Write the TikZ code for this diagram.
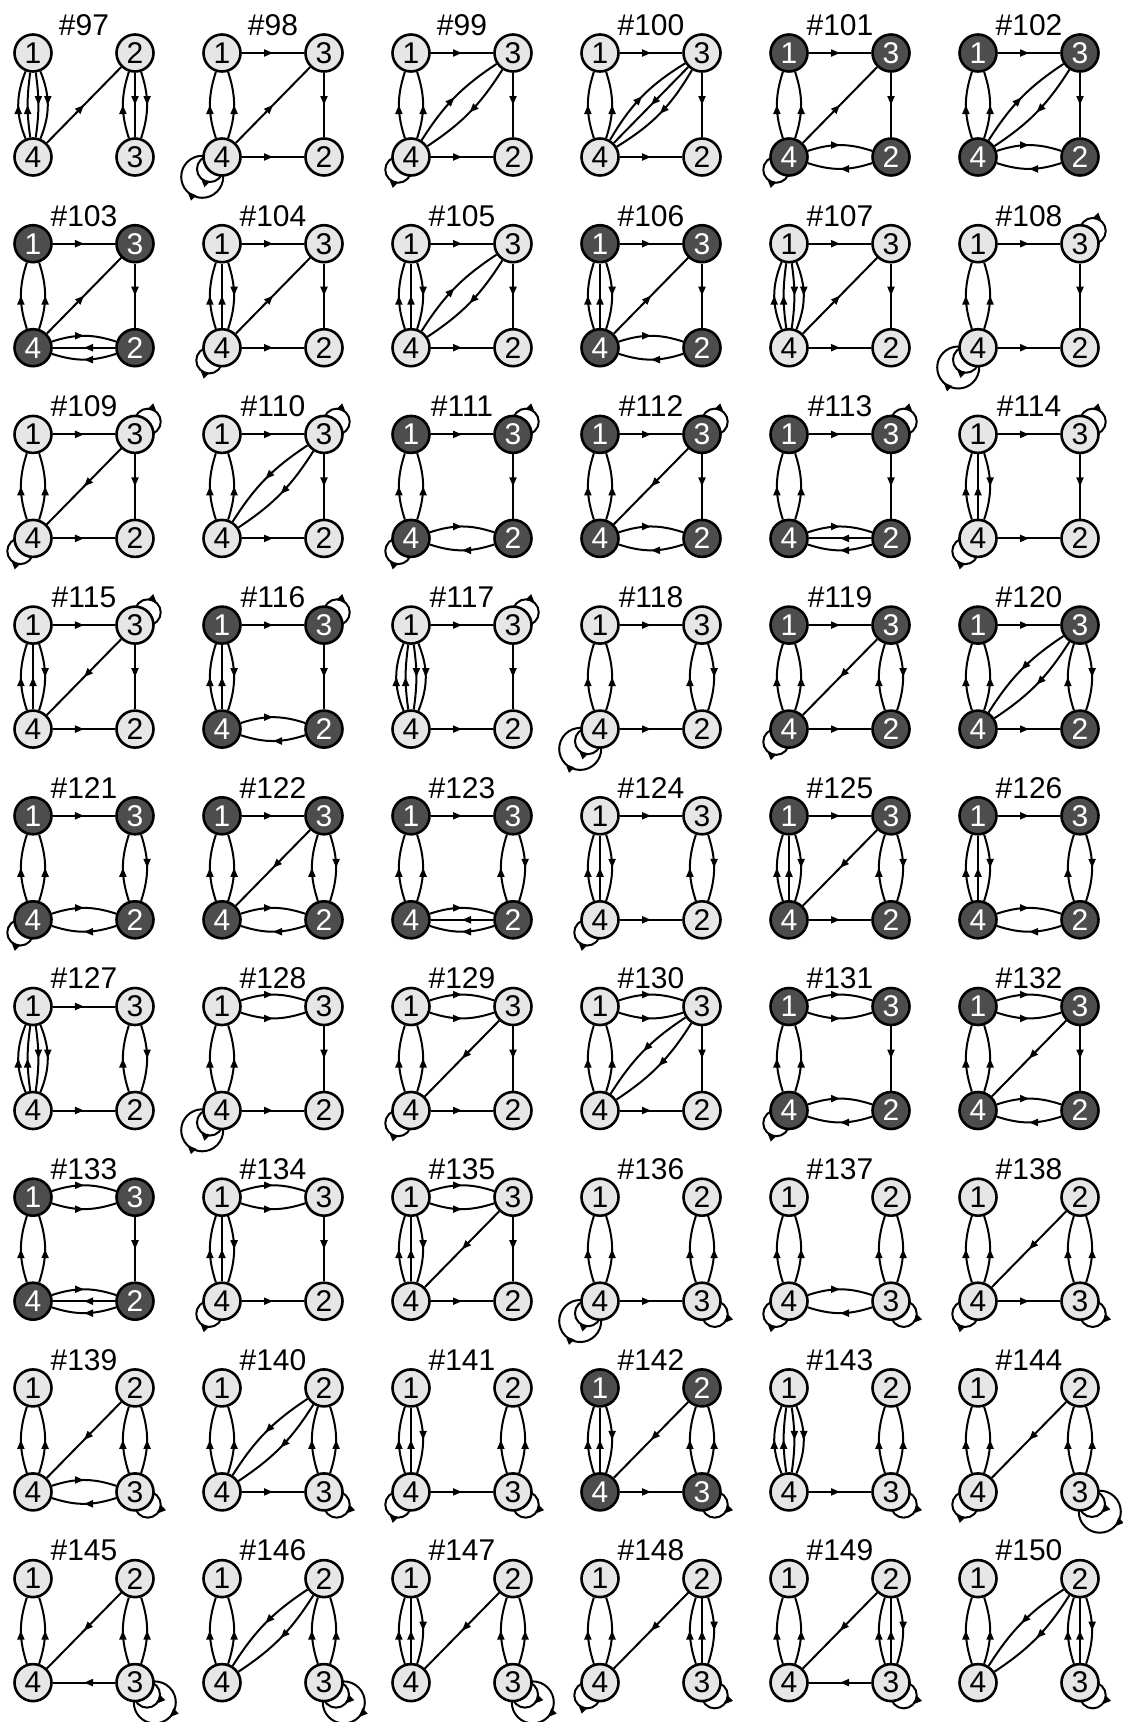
\documentclass[tikz,border=0pt]{standalone}
\usepackage{fontspec}
\setmainfont{Liberation Sans}
\usetikzlibrary{arrows.meta,decorations.markings,backgrounds,calc}

\definecolor{motiflite}{HTML}{E6E6E6}
\definecolor{motifdark}{HTML}{4D4D4D}

\tikzset{
  lite/.style={circle,draw,line width=2.6pt,fill=motiflite,minimum size=37pt,inner sep=0pt,
    font=\fontsize{30}{30}\selectfont},
  dark/.style={lite,fill=motifdark,text=white},
  title/.style={inner sep=0pt,font=\fontsize{30}{30}\selectfont},
  link/.style={line width=2pt,postaction={decorate},
    decoration={markings,mark=at position 0.5 with {\arrow{Triangle[length=9pt,width=7pt]}}}},
}

% one motif: column, row, number, top right label, bottom right label, fill style
\newcommand{\motif}[6]{%
  \coordinate (o#3) at (#1*189+33,-#2*190.7-53);
  \node[#6] (g#3-1) at (o#3) {1};
  \node[#6] (g#3-#4) at ($(o#3)+(102,0)$) {#4};
  \node[#6] (g#3-4) at ($(o#3)+(0,-104)$) {4};
  \node[#6] (g#3-#5) at ($(o#3)+(102,-104)$) {#5};
  \node[title] (t#3) at ($(o#3)+(51,28)$) {\##3};
}
% edges from/to/bend
\newcommand{\links}[2]{\foreach \s/\t/\b in {#2}{\draw[link] (g#1-\s) to[bend left=\b] (g#1-\t);}}
% self loop: node, direction, offset, radius
\newcommand{\selfloop}[4]{\draw[link] ($(#1)+(#2:#3)+(#2+180:#4)$) arc[start angle=#2+180,delta angle=-360,radius=#4];}
\newcommand{\oneloop}[2]{\selfloop{#1}{#2}{18}{13}}
\newcommand{\twoloops}[2]{\selfloop{#1}{#2}{17}{13}\selfloop{#1}{#2}{28}{21}}

\begin{document}
\begin{tikzpicture}[x=1pt,y=1pt]
  \useasboundingbox (0,0) rectangle (1123,-1722);

  \motif{0}{0}{97}{2}{3}{lite}
  \motif{1}{0}{98}{3}{2}{lite}
  \motif{2}{0}{99}{3}{2}{lite}
  \motif{3}{0}{100}{3}{2}{lite}
  \motif{4}{0}{101}{3}{2}{dark}
  \motif{5}{0}{102}{3}{2}{dark}
  \motif{0}{1}{103}{3}{2}{dark}
  \motif{1}{1}{104}{3}{2}{lite}
  \motif{2}{1}{105}{3}{2}{lite}
  \motif{3}{1}{106}{3}{2}{dark}
  \motif{4}{1}{107}{3}{2}{lite}
  \motif{5}{1}{108}{3}{2}{lite}
  \motif{0}{2}{109}{3}{2}{lite}
  \motif{1}{2}{110}{3}{2}{lite}
  \motif{2}{2}{111}{3}{2}{dark}
  \motif{3}{2}{112}{3}{2}{dark}
  \motif{4}{2}{113}{3}{2}{dark}
  \motif{5}{2}{114}{3}{2}{lite}
  \motif{0}{3}{115}{3}{2}{lite}
  \motif{1}{3}{116}{3}{2}{dark}
  \motif{2}{3}{117}{3}{2}{lite}
  \motif{3}{3}{118}{3}{2}{lite}
  \motif{4}{3}{119}{3}{2}{dark}
  \motif{5}{3}{120}{3}{2}{dark}
  \motif{0}{4}{121}{3}{2}{dark}
  \motif{1}{4}{122}{3}{2}{dark}
  \motif{2}{4}{123}{3}{2}{dark}
  \motif{3}{4}{124}{3}{2}{lite}
  \motif{4}{4}{125}{3}{2}{dark}
  \motif{5}{4}{126}{3}{2}{dark}
  \motif{0}{5}{127}{3}{2}{lite}
  \motif{1}{5}{128}{3}{2}{lite}
  \motif{2}{5}{129}{3}{2}{lite}
  \motif{3}{5}{130}{3}{2}{lite}
  \motif{4}{5}{131}{3}{2}{dark}
  \motif{5}{5}{132}{3}{2}{dark}
  \motif{0}{6}{133}{3}{2}{dark}
  \motif{1}{6}{134}{3}{2}{lite}
  \motif{2}{6}{135}{3}{2}{lite}
  \motif{3}{6}{136}{2}{3}{lite}
  \motif{4}{6}{137}{2}{3}{lite}
  \motif{5}{6}{138}{2}{3}{lite}
  \motif{0}{7}{139}{2}{3}{lite}
  \motif{1}{7}{140}{2}{3}{lite}
  \motif{2}{7}{141}{2}{3}{lite}
  \motif{3}{7}{142}{2}{3}{dark}
  \motif{4}{7}{143}{2}{3}{lite}
  \motif{5}{7}{144}{2}{3}{lite}
  \motif{0}{8}{145}{2}{3}{lite}
  \motif{1}{8}{146}{2}{3}{lite}
  \motif{2}{8}{147}{2}{3}{lite}
  \motif{3}{8}{148}{2}{3}{lite}
  \motif{4}{8}{149}{2}{3}{lite}
  \motif{5}{8}{150}{2}{3}{lite}

  \begin{scope}[on background layer]
    % row 1
    \links{97}{4/1/22, 4/1/8, 1/4/8, 1/4/22, 4/2/0, 3/2/18, 2/3/0, 2/3/18}
    \links{98}{1/3/0, 3/2/0, 4/2/0, 4/1/18, 4/1/-18, 4/3/0}
    \twoloops{g98-4}{225}
    \links{99}{1/3/0, 3/2/0, 4/2/0, 4/1/18, 4/1/-18, 4/3/12, 3/4/12}
    \oneloop{g99-4}{225}
    \links{100}{1/3/0, 3/2/0, 4/2/0, 4/1/18, 4/1/-18, 4/3/14, 3/4/0, 3/4/14}
    \links{101}{1/3/0, 3/2/0, 4/1/18, 4/1/-18, 4/3/0, 4/2/18, 2/4/18}
    \oneloop{g101-4}{225}
    \links{102}{1/3/0, 3/2/0, 4/1/18, 4/1/-18, 4/3/12, 3/4/12, 4/2/18, 2/4/18}
    % row 2
    \links{103}{1/3/0, 3/2/0, 4/1/18, 4/1/-18, 4/3/0, 4/2/18, 2/4/0, 2/4/18}
    \links{104}{1/3/0, 3/2/0, 4/2/0, 4/1/18, 4/1/0, 1/4/18, 4/3/0}
    \oneloop{g104-4}{225}
    \links{105}{1/3/0, 3/2/0, 4/2/0, 4/1/18, 4/1/0, 1/4/18, 4/3/12, 3/4/12}
    \links{106}{1/3/0, 3/2/0, 4/1/18, 4/1/0, 1/4/18, 4/3/0, 4/2/18, 2/4/18}
    \links{107}{1/3/0, 3/2/0, 4/2/0, 4/1/22, 4/1/8, 1/4/8, 1/4/22, 4/3/0}
    \links{108}{1/3/0, 3/2/0, 4/2/0, 4/1/18, 4/1/-18}
    \oneloop{g108-3}{45}
    \twoloops{g108-4}{225}
    % row 3
    \links{109}{1/3/0, 3/2/0, 4/2/0, 4/1/18, 4/1/-18, 3/4/0}
    \oneloop{g109-3}{45}
    \oneloop{g109-4}{225}
    \links{110}{1/3/0, 3/2/0, 4/2/0, 4/1/18, 4/1/-18, 3/4/12, 3/4/-12}
    \oneloop{g110-3}{45}
    \links{111}{1/3/0, 3/2/0, 4/1/18, 4/1/-18, 4/2/18, 2/4/18}
    \oneloop{g111-3}{45}
    \oneloop{g111-4}{225}
    \links{112}{1/3/0, 3/2/0, 4/1/18, 4/1/-18, 3/4/0, 4/2/18, 2/4/18}
    \oneloop{g112-3}{45}
    \links{113}{1/3/0, 3/2/0, 4/1/18, 4/1/-18, 4/2/18, 2/4/0, 2/4/18}
    \oneloop{g113-3}{45}
    \links{114}{1/3/0, 3/2/0, 4/2/0, 4/1/18, 4/1/0, 1/4/18}
    \oneloop{g114-3}{45}
    \oneloop{g114-4}{225}
    % row 4
    \links{115}{1/3/0, 3/2/0, 4/2/0, 4/1/18, 4/1/0, 1/4/18, 3/4/0}
    \oneloop{g115-3}{45}
    \links{116}{1/3/0, 3/2/0, 4/1/18, 4/1/0, 1/4/18, 4/2/18, 2/4/18}
    \oneloop{g116-3}{45}
    \links{117}{1/3/0, 3/2/0, 4/2/0, 4/1/22, 4/1/8, 1/4/8, 1/4/22}
    \oneloop{g117-3}{45}
    \links{118}{1/3/0, 4/2/0, 4/1/18, 4/1/-18, 2/3/18, 3/2/18}
    \twoloops{g118-4}{225}
    \links{119}{1/3/0, 4/2/0, 4/1/18, 4/1/-18, 2/3/18, 3/2/18, 3/4/0}
    \oneloop{g119-4}{225}
    \links{120}{1/3/0, 4/2/0, 4/1/18, 4/1/-18, 2/3/18, 3/2/18, 3/4/12, 3/4/-12}
    % row 5
    \links{121}{1/3/0, 4/1/18, 4/1/-18, 2/3/18, 3/2/18, 4/2/18, 2/4/18}
    \oneloop{g121-4}{225}
    \links{122}{1/3/0, 4/1/18, 4/1/-18, 2/3/18, 3/2/18, 4/2/18, 2/4/18, 3/4/0}
    \links{123}{1/3/0, 4/1/18, 4/1/-18, 2/3/18, 3/2/18, 4/2/18, 2/4/0, 2/4/18}
    \links{124}{1/3/0, 4/2/0, 4/1/18, 4/1/0, 1/4/18, 2/3/18, 3/2/18}
    \oneloop{g124-4}{225}
    \links{125}{1/3/0, 4/2/0, 4/1/18, 4/1/0, 1/4/18, 2/3/18, 3/2/18, 3/4/0}
    \links{126}{1/3/0, 4/1/18, 4/1/0, 1/4/18, 2/3/18, 3/2/18, 4/2/18, 2/4/18}
    % row 6
    \links{127}{1/3/0, 4/2/0, 4/1/22, 4/1/8, 1/4/8, 1/4/22, 2/3/18, 3/2/18}
    \links{128}{1/3/18, 1/3/-18, 3/2/0, 4/2/0, 4/1/18, 4/1/-18}
    \twoloops{g128-4}{225}
    \links{129}{1/3/18, 1/3/-18, 3/2/0, 4/2/0, 4/1/18, 4/1/-18, 3/4/0}
    \oneloop{g129-4}{225}
    \links{130}{1/3/18, 1/3/-18, 3/2/0, 4/2/0, 4/1/18, 4/1/-18, 3/4/12, 3/4/-12}
    \links{131}{1/3/18, 1/3/-18, 3/2/0, 4/1/18, 4/1/-18, 4/2/18, 2/4/18}
    \oneloop{g131-4}{225}
    \links{132}{1/3/18, 1/3/-18, 3/2/0, 4/1/18, 4/1/-18, 4/2/18, 2/4/18, 3/4/0}
    % row 7
    \links{133}{1/3/18, 1/3/-18, 3/2/0, 4/1/18, 4/1/-18, 4/2/18, 2/4/0, 2/4/18}
    \links{134}{1/3/18, 1/3/-18, 3/2/0, 4/2/0, 4/1/18, 4/1/0, 1/4/18}
    \oneloop{g134-4}{225}
    \links{135}{1/3/18, 1/3/-18, 3/2/0, 4/2/0, 4/1/18, 4/1/0, 1/4/18, 3/4/0}
    \links{136}{4/1/18, 4/1/-18, 3/2/18, 3/2/-18, 4/3/0}
    \twoloops{g136-4}{225}
    \oneloop{g136-3}{-45}
    \links{137}{4/1/18, 4/1/-18, 3/2/18, 3/2/-18, 4/3/18, 3/4/18}
    \oneloop{g137-4}{225}
    \oneloop{g137-3}{-45}
    \links{138}{4/1/18, 4/1/-18, 3/2/18, 3/2/-18, 2/4/0, 4/3/0}
    \oneloop{g138-4}{225}
    \oneloop{g138-3}{-45}
    % row 8
    \links{139}{4/1/18, 4/1/-18, 3/2/18, 3/2/-18, 2/4/0, 4/3/18, 3/4/18}
    \oneloop{g139-3}{-45}
    \links{140}{4/1/18, 4/1/-18, 3/2/18, 3/2/-18, 2/4/12, 2/4/-12, 4/3/0}
    \oneloop{g140-3}{-45}
    \links{141}{4/1/18, 4/1/0, 1/4/18, 3/2/18, 3/2/-18, 4/3/0}
    \oneloop{g141-4}{225}
    \oneloop{g141-3}{-45}
    \links{142}{4/1/18, 4/1/0, 1/4/18, 3/2/18, 3/2/-18, 2/4/0, 4/3/0}
    \oneloop{g142-3}{-45}
    \links{143}{4/1/22, 4/1/8, 1/4/8, 1/4/22, 3/2/18, 3/2/-18, 4/3/0}
    \oneloop{g143-3}{-45}
    \links{144}{4/1/18, 4/1/-18, 3/2/18, 3/2/-18, 2/4/0}
    \oneloop{g144-4}{225}
    \twoloops{g144-3}{-45}
    % row 9
    \links{145}{4/1/18, 4/1/-18, 3/2/18, 3/2/-18, 2/4/0, 3/4/0}
    \twoloops{g145-3}{-45}
    \links{146}{4/1/18, 4/1/-18, 3/2/18, 3/2/-18, 2/4/12, 2/4/-12}
    \twoloops{g146-3}{-45}
    \links{147}{4/1/18, 4/1/0, 1/4/18, 3/2/18, 3/2/-18, 2/4/0}
    \twoloops{g147-3}{-45}
    \links{148}{4/1/18, 4/1/-18, 3/2/18, 3/2/0, 2/3/18, 2/4/0}
    \oneloop{g148-4}{225}
    \oneloop{g148-3}{-45}
    \links{149}{4/1/18, 4/1/-18, 3/2/18, 3/2/0, 2/3/18, 2/4/0, 3/4/0}
    \oneloop{g149-3}{-45}
    \links{150}{4/1/18, 4/1/-18, 3/2/18, 3/2/0, 2/3/18, 2/4/12, 2/4/-12}
    \oneloop{g150-3}{-45}
  \end{scope}
\end{tikzpicture}
\end{document}
